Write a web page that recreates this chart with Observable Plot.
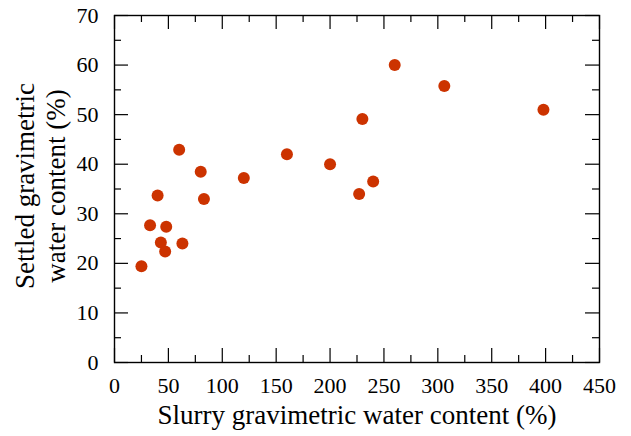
<!DOCTYPE html>
<html>
<head>
<meta charset="utf-8">
<script src="https://cdn.jsdelivr.net/npm/d3@7"></script>
<script src="https://cdn.jsdelivr.net/npm/@observablehq/plot@0.6"></script>
<style>
  html, body { margin: 0; padding: 0; background: #fff; }
</style>
</head>
<body>
<div id="chart"></div>
<script>
// Data
const slurryWater = [25, 33, 40, 43, 47, 48, 60, 63, 80, 83, 120, 160, 200, 227, 230, 240, 260, 306, 398];
const settledWater = [19.4, 27.7, 33.7, 24.2, 22.4, 27.4, 42.9, 24.0, 38.5, 33.0, 37.2, 42.0, 40.0, 34.0, 49.1, 36.5, 60.0, 55.8, 51.0];

const xTicks = [0, 50, 100, 150, 200, 250, 300, 350, 400, 450];
const xMinorTicks = [25, 75, 125, 175, 225, 275, 325, 375, 425];
const yTicks = [0, 10, 20, 30, 40, 50, 60, 70];
const yMinorTicks = [5, 15, 25, 35, 45, 55, 65];

const xTitle = "Slurry gravimetric water content (%)";
const yTitle = "Settled gravimetric\nwater content (%)";

const points = slurryWater.map((x, i) => ({x, y: settledWater[i]}));

const W = 631, H = 436;
const margin = {top: 15, right: 32, bottom: 74, left: 114};
const innerW = W - margin.left - margin.right;
const innerH = H - margin.top - margin.bottom;
const majorLen = 14, minorLen = 7;
const font = "'Liberation Serif', 'Times New Roman', serif";

const chart = Plot.plot({
  width: W,
  height: H,
  marginTop: margin.top,
  marginRight: margin.right,
  marginBottom: margin.bottom,
  marginLeft: margin.left,
  style: {fontFamily: font, background: "#fff", color: "#000"},
  x: {domain: [0, 450], axis: null},
  y: {domain: [0, 70], axis: null},
  marks: [
    // inward ticks, bottom and top
    Plot.tickX(xTicks, {x: d => d, insetTop: innerH - majorLen, stroke: "#000", strokeWidth: 1.2}),
    Plot.tickX(xTicks, {x: d => d, insetBottom: innerH - majorLen, stroke: "#000", strokeWidth: 1.2}),
    Plot.tickX(xMinorTicks, {x: d => d, insetTop: innerH - minorLen, stroke: "#000", strokeWidth: 1.2}),
    Plot.tickX(xMinorTicks, {x: d => d, insetBottom: innerH - minorLen, stroke: "#000", strokeWidth: 1.2}),
    // inward ticks, left and right
    Plot.tickY(yTicks, {y: d => d, insetRight: innerW - majorLen, stroke: "#000", strokeWidth: 1.2}),
    Plot.tickY(yTicks, {y: d => d, insetLeft: innerW - majorLen, stroke: "#000", strokeWidth: 1.2}),
    Plot.tickY(yMinorTicks, {y: d => d, insetRight: innerW - minorLen, stroke: "#000", strokeWidth: 1.2}),
    Plot.tickY(yMinorTicks, {y: d => d, insetLeft: innerW - minorLen, stroke: "#000", strokeWidth: 1.2}),
    Plot.frame({stroke: "#000", strokeWidth: 1.4}),
    // tick labels
    Plot.axisX(xTicks, {anchor: "bottom", tickSize: 0, tickPadding: 15, fontSize: 22, fontFamily: font, label: null, fill: "#000"}),
    Plot.axisY(yTicks, {anchor: "left", tickSize: 0, tickPadding: 16, fontSize: 22, fontFamily: font, label: null, fill: "#000"}),
    // axis titles
    Plot.text([xTitle], {frameAnchor: "bottom", text: d => d, dy: 53, lineAnchor: "middle", fontSize: 27, fontFamily: font, fill: "#000"}),
    Plot.text([yTitle], {frameAnchor: "left", text: d => d, dx: -75, dy: -3, rotate: -90, textAnchor: "middle", lineAnchor: "middle", lineHeight: 1.15, fontSize: 27, fontFamily: font, fill: "#000"}),
    // data
    Plot.dot(points, {x: "x", y: "y", r: 6, fill: "#cc3300", stroke: null})
  ]
});

document.getElementById("chart").appendChild(chart);
</script>
</body>
</html>
